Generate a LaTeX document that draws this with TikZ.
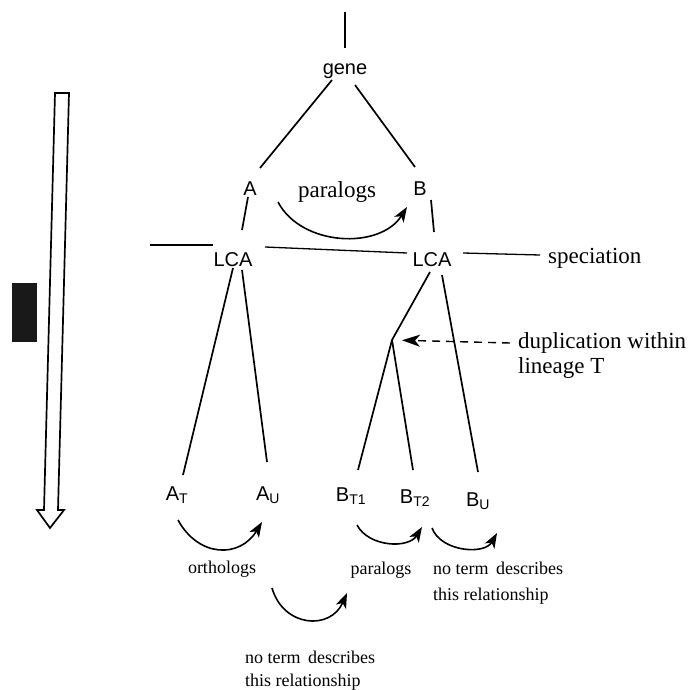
\documentclass[tikz,border=0pt]{standalone}
\usepackage{fontspec}
\setmainfont{Liberation Serif}
\newfontfamily\taxonfont{Liberation Sans}
\usetikzlibrary{arrows.meta}

\tikzset{
  taxon/.style={font=\taxonfont\fontsize{20}{24}\selectfont, inner sep=0pt, anchor=base},
  remark/.style={font=\fontsize{23}{27}\selectfont, inner sep=0pt, anchor=base},
  smallremark/.style={font=\fontsize{18}{22}\selectfont, inner sep=0pt, anchor=base},
  treeline/.style={line width=1.7pt},
  relarrow/.style={line width=1.6pt, -{Stealth[length=15pt,width=11pt,inset=4pt]}},
}

\begin{document}
\begin{tikzpicture}[x=1pt,y=1pt]
	\useasboundingbox (0,0) rectangle (696,-690);
	
	% time axis at the left
	\draw[line width=1.7pt] (55,-93) -- (69,-93) -- (58,-510) -- (64,-510) -- (50,-528) -- (37,-510) -- (44,-510) -- cycle;
	\fill[black!90] (12,-283) rectangle (37,-342);
	
	% gene labels
	\node[taxon] (gene) at (345,-75) {gene};
	\node[taxon] (A) at (250,-195) {A};
	\node[taxon] (B) at (420,-195) {B};
	\node[taxon] (lcaA) at (233,-266) {LCA};
	\node[taxon] (lcaB) at (432,-266) {LCA};
	\node[taxon] (AT) at (177,-500) {A\textsubscript{T}};
	\node[taxon] (AU) at (268,-500) {A\textsubscript{U}};
	\node[taxon] (BT1) at (351,-501) {B\textsubscript{T1}};
	\node[taxon] (BT2) at (415,-503) {B\textsubscript{T2}};
	\node[taxon] (BU) at (478,-506) {B\textsubscript{U}};
	\coordinate (root) at (345,-12);
	\coordinate (D) at (392,-340);
	\coordinate (specL) at (150,-245);
	
	% tree
	\draw[treeline] (root) -- ([shift={(0,27)}]gene.base);
	\draw[treeline] ([shift={(-13,-5)}]gene.base) -- ([shift={(10,27)}]A.base);
	\draw[treeline] ([shift={(10,-10)}]gene.base) -- ([shift={(-5,28)}]B.base);
	\draw[treeline] ([shift={(-2,-2)}]A.base) -- ([shift={(9,36)}]lcaA.base);
	\draw[treeline] ([shift={(11,-5)}]B.base) -- ([shift={(2,34)}]lcaB.base);
	\draw[treeline] ([shift={(0,-2)}]lcaA.base) -- ([shift={(6,25)}]AT.base);
	\draw[treeline] ([shift={(9,-4)}]lcaA.base) -- ([shift={(-1,38)}]AU.base);
	\draw[treeline] ([shift={(-2,-6)}]lcaB.base) -- (D) -- ([shift={(7,31)}]BT1.base);
	\draw[treeline] (D) -- ([shift={(-2,33)}]BT2.base);
	\draw[treeline] ([shift={(10,-9)}]lcaB.base) -- ([shift={(0,34)}]BU.base);
	
	% speciation
	\node[remark, anchor=base west] (spec) at (548,-263) {speciation};
	\draw[line width=1.3pt] (specL) -- ([shift={(-20,21)}]lcaA.base);
	\draw[line width=1.3pt] ([shift={(32,19)}]lcaA.base) -- ([shift={(-25,13)}]lcaB.base);
	\draw[line width=1.3pt] ([shift={(31,13)}]lcaB.base) -- ([shift={(-8,8)}]spec.base west);
	
	% duplication
	\node[remark, anchor=base west] (dup) at (518,-348) {duplication within};
	\node[remark, anchor=base west] (lineage) at (518,-373) {lineage T};
	\draw[line width=1.4pt, dash pattern=on 8pt off 6pt, -{Stealth[length=18pt,width=12pt,inset=5pt]}, shorten >=10pt] ([shift={(-8,5)}]dup.base west) -- (D);
	
	% relationships
	\node[remark] (paraTop) at (337,-197) {paralogs};
	\draw[relarrow] ([shift={(28,-7)}]A.base) to[bend right=60] ([shift={(-13,-12)}]B.base);
	
	\node[smallremark] (orth) at (222,-573) {orthologs};
	\draw[relarrow] ([shift={(1,-20)}]AT.base) to[bend right=60, looseness=1.3] ([shift={(-6,-22)}]AU.base);
	
	\node[smallremark] (paraBot) at (381,-574) {paralogs};
	\draw[relarrow] ([shift={(6,-24)}]BT1.base) to[bend right=60] ([shift={(7,-24)}]BT2.base);
	
	\node[smallremark, anchor=base west] (noneR) at (433,-574) {no term\, describes};
	\node[smallremark, anchor=base west] (noneR2) at (433,-600) {this relationship};
	\draw[relarrow] ([shift={(17,-25)}]BT2.base) to[bend right=65] ([shift={(19,-27)}]BU.base);
	
	\node[smallremark, anchor=base west] (noneL) at (245,-663) {no term\, describes};
	\node[smallremark, anchor=base west] (noneL2) at (245,-686) {this relationship};
	\draw[relarrow] ([shift={(4,-88)}]AU.base) to[bend right=70, looseness=1.4] ([shift={(-4,-92)}]BT1.base);
\end{tikzpicture}
\end{document}
